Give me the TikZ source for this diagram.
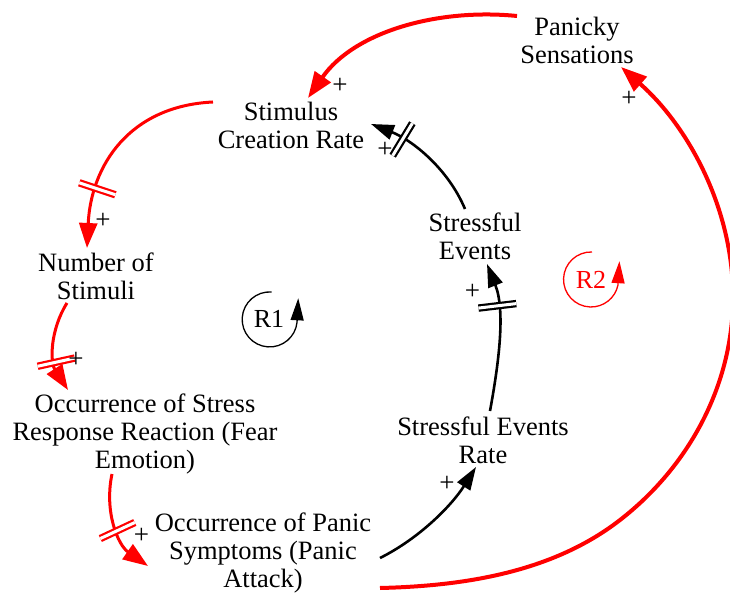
\documentclass[tikz,border=0pt]{standalone}
\usepackage{fontspec}
\setmainfont{Liberation Serif}
\usetikzlibrary{arrows.meta,decorations.markings}
\begin{document}
\begin{tikzpicture}[x=1pt,y=-1pt,
  var/.style={font=\fontsize{26.5}{28}\selectfont, align=center, inner sep=0pt},
  lbl/.style={font=\fontsize{27}{28}\selectfont, inner sep=0pt},
  loopname/.style={font=\fontsize{26}{28}\selectfont, inner sep=0pt},
  redlink/.style={red, line width=3pt, -{Triangle[length=25pt,width=18pt]}},
  redbig/.style={red, line width=4pt, -{Triangle[length=26pt,width=19pt]}},
  blacklink/.style={black, line width=2.6pt, -{Triangle[length=23pt,width=15pt]}},
  delaymark/.style={postaction={decorate, decoration={markings,
     mark=at position #1 with {\draw[arrows=-, line width=2.2pt, double=white, double distance=3pt] (0,-19) -- (0,19);}}}},
  loopc/.style={line width=1.3pt, -{Triangle[length=22pt,width=13pt]}}
]
\useasboundingbox[fill=white] (0,0) rectangle (730,593);

% variables
\node[var] (pan) at (577,40) {Panicky\\Sensations};
\node[var] (scr) at (291,125) {Stimulus\\Creation Rate};
\node[var] (nos) at (96,276) {Number of\\Stimuli};
\node[var] (osr) at (145,434) {Occurrence of Stress\\Response Reaction (Fear\\Emotion)};
\node[var] (ops) at (263,552.5) {Occurrence of Panic\\Symptoms (Panic\\Attack)};
\node[var] (ser) at (483,440) {Stressful Events\\Rate};
\node[var] (se) at (475,236) {Stressful\\Events};

% loop markers
\node[loopname] (R1) at (269,319) {R1};
\node[loopname, red] (R2) at (591,280) {R2};
\coordinate (r1c) at (269.7,319);
\coordinate (r2c) at (591,279);
\draw[loopc] ([shift={(1.9,-27)}]r1c) arc[start angle=-86, end angle=-354, radius=27.5] -- ++(1.2,-24);
\draw[loopc, red] ([shift={(1,-27)}]r2c) arc[start angle=-88, end angle=-348, radius=27.5] -- ++(1.5,-24);

% helper coordinates of the long loop
\coordinate (r2a) at (620,520);
\coordinate (r2b) at (733,297);

% connectors
\draw[redbig] ([shift={(-60,-24)}]pan.center) .. controls +(-80,-8) and +(46,-66) .. ([shift={(17,-27)}]scr.center);
\draw[redlink, delaymark=0.72] ([shift={(-78,-23)}]scr.center) .. controls +(-84,4) and +(4,-82) .. ([shift={(-9,-28)}]nos.center);
\draw[redlink, delaymark=0.67] ([shift={(-29,27)}]nos.center) .. controls +(-17,27) and +(-18,-28) .. ([shift={(-77,-44)}]osr.center);
\draw[redlink, delaymark=0.55] ([shift={(-33,40)}]osr.center) .. controls +(-8,38) and +(-30,-21) .. ([shift={(-115,13.5)}]ops.center);
\draw[blacklink] ([shift={(117,5.5)}]ops.center) .. controls +(40,-20) and +(-24,38) .. ([shift={(-7,27)}]ser.center);
\draw[blacklink, delaymark=0.71] ([shift={(7,-29)}]ser.center) .. controls +(9,-49) and +(18.5,46.5) .. ([shift={(12,28)}]se.center);
\draw[blacklink, delaymark=0.73] ([shift={(-10,-27)}]se.center) .. controls +(-17,-40.5) and +(41,16) .. ([shift={(80,-1)}]scr.center);
\draw[redbig] ([shift={(117,35.5)}]ops.center) .. controls (465,586) and (553,572) .. (r2a)
   .. controls (689,466.5) and (733,385) .. (r2b)
   .. controls (733,208) and (688,126) .. ([shift={(44,27)}]pan.center);

% polarity signs
\node[lbl] (p1) at (340,86) {+};
\node[lbl] (p2) at (103,221) {+};
\node[lbl] (p3) at (76,360) {+};
\node[lbl] (p4) at (141.5,536) {+};
\node[lbl] (p5) at (447,484) {+};
\node[lbl] (p6) at (472.5,292) {+};
\node[lbl] (p7) at (385,150) {+};
\node[lbl] (p8) at (629,99) {+};
\end{tikzpicture}
\end{document}
